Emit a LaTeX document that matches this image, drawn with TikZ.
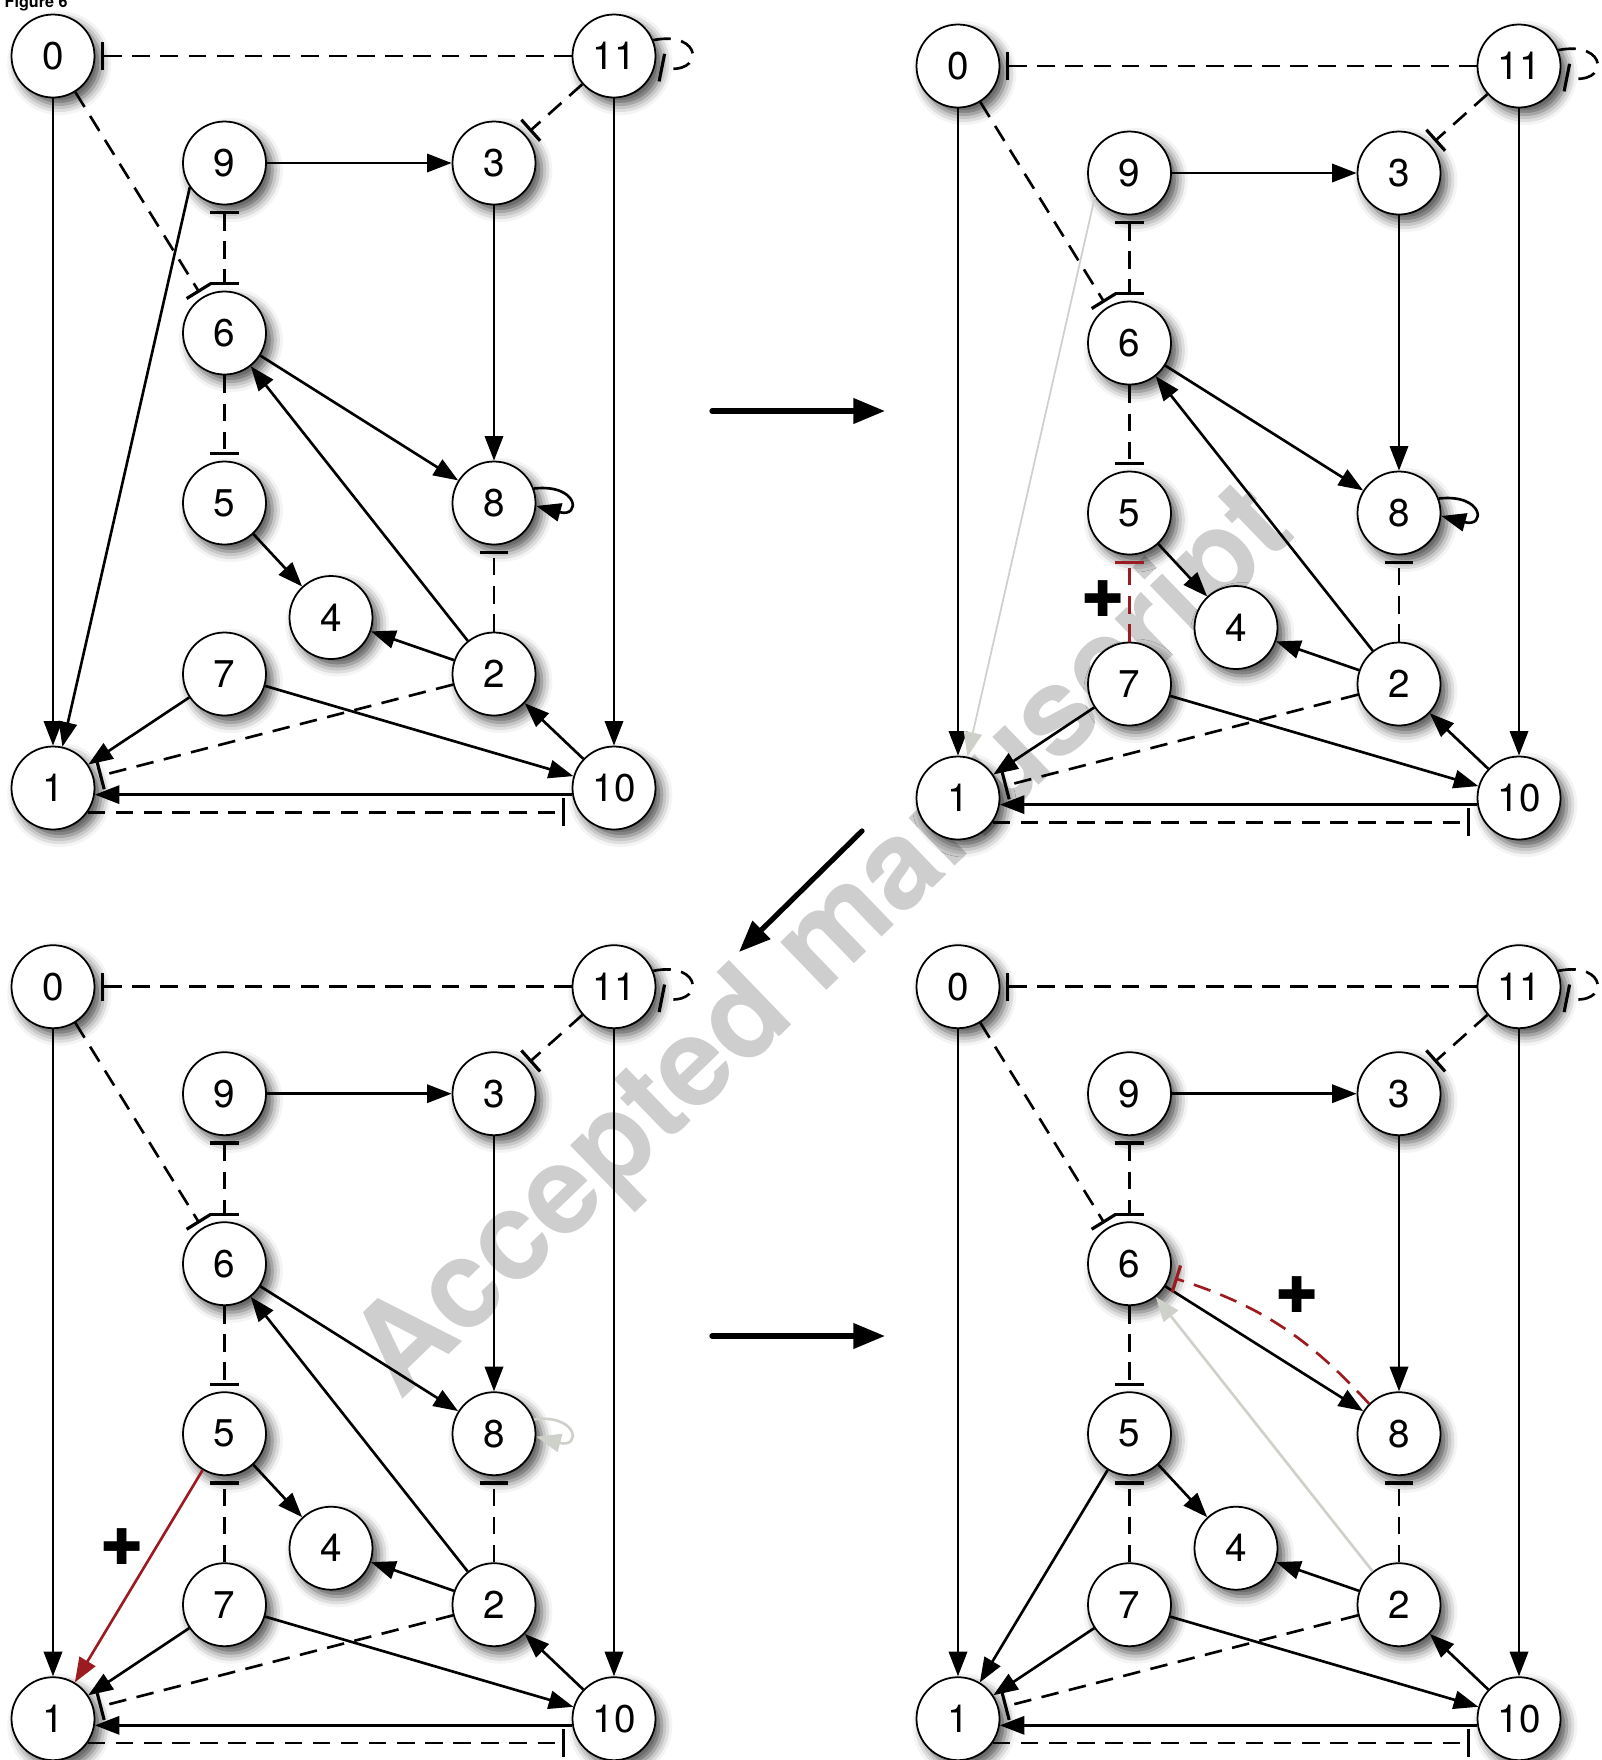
\documentclass[tikz,border=0pt]{standalone}
\usepackage{fontspec}
\setmainfont{TeX Gyre Heros}
\newfontfamily\symfont{DejaVu Sans}
\usetikzlibrary{arrows.meta,shadows.blur}

\definecolor{addred}{RGB}{155,27,32}
\definecolor{gone}{RGB}{206,209,201}
\definecolor{wmgray}{RGB}{206,206,206}

\tikzset{
  gene/.style={circle, draw, line width=0.5pt, fill=white, minimum size=0.83cm, inner sep=0pt,
    font=\fontsize{11}{12}\selectfont,
    blur shadow={shadow xshift=1.8pt, shadow yshift=-2pt, shadow blur radius=3pt, shadow opacity=70}},
  act/.style={line width=0.75pt, -{Triangle[length=7pt,width=5.2pt]}},
  inh/.style={line width=0.75pt, dash pattern=on 5pt off 3pt, -{Bar[width=8pt,line width=0.9pt]}, shorten >=1.5pt},
  biinh/.style={inh, {Bar[width=8pt,line width=0.9pt]}-{Bar[width=8pt,line width=0.9pt]}, shorten <=1.5pt},
  move/.style={line width=1.5pt, line cap=round, -{Triangle[length=9pt,width=7pt]}},
  plusmark/.style={font=\symfont\fontsize{14}{14}\selectfont, inner sep=0pt}
}

% the twelve genes of one panel
\newcommand{\genenodes}[1]{
  \node[gene] (#1-0) at (\xa,\ya) {0};
  \node[gene] (#1-11) at (\xe,\ya) {11};
  \node[gene] (#1-9) at (\xb,\yb) {9};
  \node[gene] (#1-3) at (\xd,\yb) {3};
  \node[gene] (#1-6) at (\xb,\yc) {6};
  \node[gene] (#1-5) at (\xb,\yd) {5};
  \node[gene] (#1-8) at (\xd,\yd) {8};
  \node[gene] (#1-4) at (\xc,\ye) {4};
  \node[gene] (#1-7) at (\xb,\yf) {7};
  \node[gene] (#1-2) at (\xd,\yf) {2};
  \node[gene] (#1-1) at (\xa,\yg) {1};
  \node[gene] (#1-10) at (\xe,\yg) {10};
}

% interactions shared by all panels
\newcommand{\coreedges}[1]{
  \draw[act] (#1-0) -- (#1-1);
  \draw[inh] (#1-11) -- (#1-0);
  \draw[inh] (#1-11.22) .. controls +(0.5,0.1) and +(0.5,-0.1) .. (#1-11.-14);
  \draw[inh] (#1-11) -- (#1-3);
  \draw[inh] (#1-0) -- (#1-6);
  \draw[act] (#1-9) -- (#1-3);
  \draw[biinh] (#1-9) -- (#1-6);
  \draw[inh] (#1-6) -- (#1-5);
  \draw[act] (#1-6) -- (#1-8);
  \draw[act] (#1-3) -- (#1-8);
  \draw[inh] (#1-2) -- (#1-8);
  \draw[act] (#1-5) -- (#1-4);
  \draw[act] (#1-2) -- (#1-4);
  \draw[act] (#1-7) -- (#1-1);
  \draw[act] (#1-7) -- (#1-10);
  \draw[inh] (#1-2) -- (#1-1);
  \draw[act] (#1-10) -- (#1-2);
  \draw[act] (#1-11) -- (#1-10);
  \draw[act] (#1-10.189) -- (#1-1.-9);
  \draw[inh, shorten >=4pt] (#1-1.-35) -- (#1-10.-145);
}

\begin{document}
\begin{tikzpicture}
\def\xa{0.53}
\def\xb{2.245}
\def\xc{3.31}
\def\xd{4.94}
\def\xe{6.14}

\def\ya{-0.56}
\def\yb{-1.63}
\def\yc{-3.33}
\def\yd{-5.03}
\def\ye{-6.175}
\def\yf{-6.74}
\def\yg{-7.88}

\useasboundingbox (0,0) rectangle (16.01,-17.60);

\node[anchor=base west, font=\bfseries\fontsize{4.6}{5}\selectfont, inner sep=0pt] (fig) at (0.04,-0.07) {Figure 6};

\node[rotate=44, text=wmgray, font=\bfseries\fontsize{35}{35}\selectfont] (wm) at (8.27,-9.45) {Accepted manuscript};

% top left: starting network
\genenodes{a}
\coreedges{a}
\draw[act] (a-2) -- (a-6);
\draw[act] (a-9.215) -- (a-1);
\draw[act] (a-8.20) .. controls +(0.45,0.05) and +(0.45,-0.12) .. (a-8.-4);

% top right
\begin{scope}[shift={(9.05,-0.10)}]
\genenodes{b}
\end{scope}
\coreedges{b}
\draw[act] (b-2) -- (b-6);
\draw[act, gone, line width=0.5pt] (b-9.215) -- (b-1);
\draw[act] (b-8.20) .. controls +(0.45,0.05) and +(0.45,-0.12) .. (b-8.-4);
\draw[inh, addred] (b-7) -- (b-5);
\node[plusmark] (bplus) at (11.03,-5.99) {✚};

% bottom left
\begin{scope}[shift={(0,-9.307)}]
\genenodes{c}
\end{scope}
\coreedges{c}
\draw[act] (c-2) -- (c-6);
\draw[inh] (c-7) -- (c-5);
\draw[act, addred] (c-5) -- (c-1);
\draw[act, gone] (c-8.20) .. controls +(0.45,0.05) and +(0.45,-0.12) .. (c-8.-4);
\node[plusmark] (cplus) at (1.22,-15.47) {✚};

% bottom right
\begin{scope}[shift={(9.05,-9.307)}]
\genenodes{d}
\end{scope}
\coreedges{d}
\draw[act, gone] (d-2) -- (d-6);
\draw[inh] (d-7) -- (d-5);
\draw[act] (d-5) -- (d-1);
\draw[inh, addred] (d-8.135) to[bend right=15] (d-6.-18);
\node[plusmark] (dplus) at (12.97,-12.95) {✚};

% steps between panels
\coordinate (s1) at (7.12,-4.11);
\coordinate (e1) at (8.85,-4.11);
\coordinate (s2) at (8.62,-8.31);
\coordinate (e2) at (7.39,-9.52);
\coordinate (s3) at (7.12,-13.36);
\coordinate (e3) at (8.85,-13.36);
\draw[move] (s1) -- (e1);
\draw[move] (s2) -- (e2);
\draw[move] (s3) -- (e3);

\end{tikzpicture}
\end{document}
